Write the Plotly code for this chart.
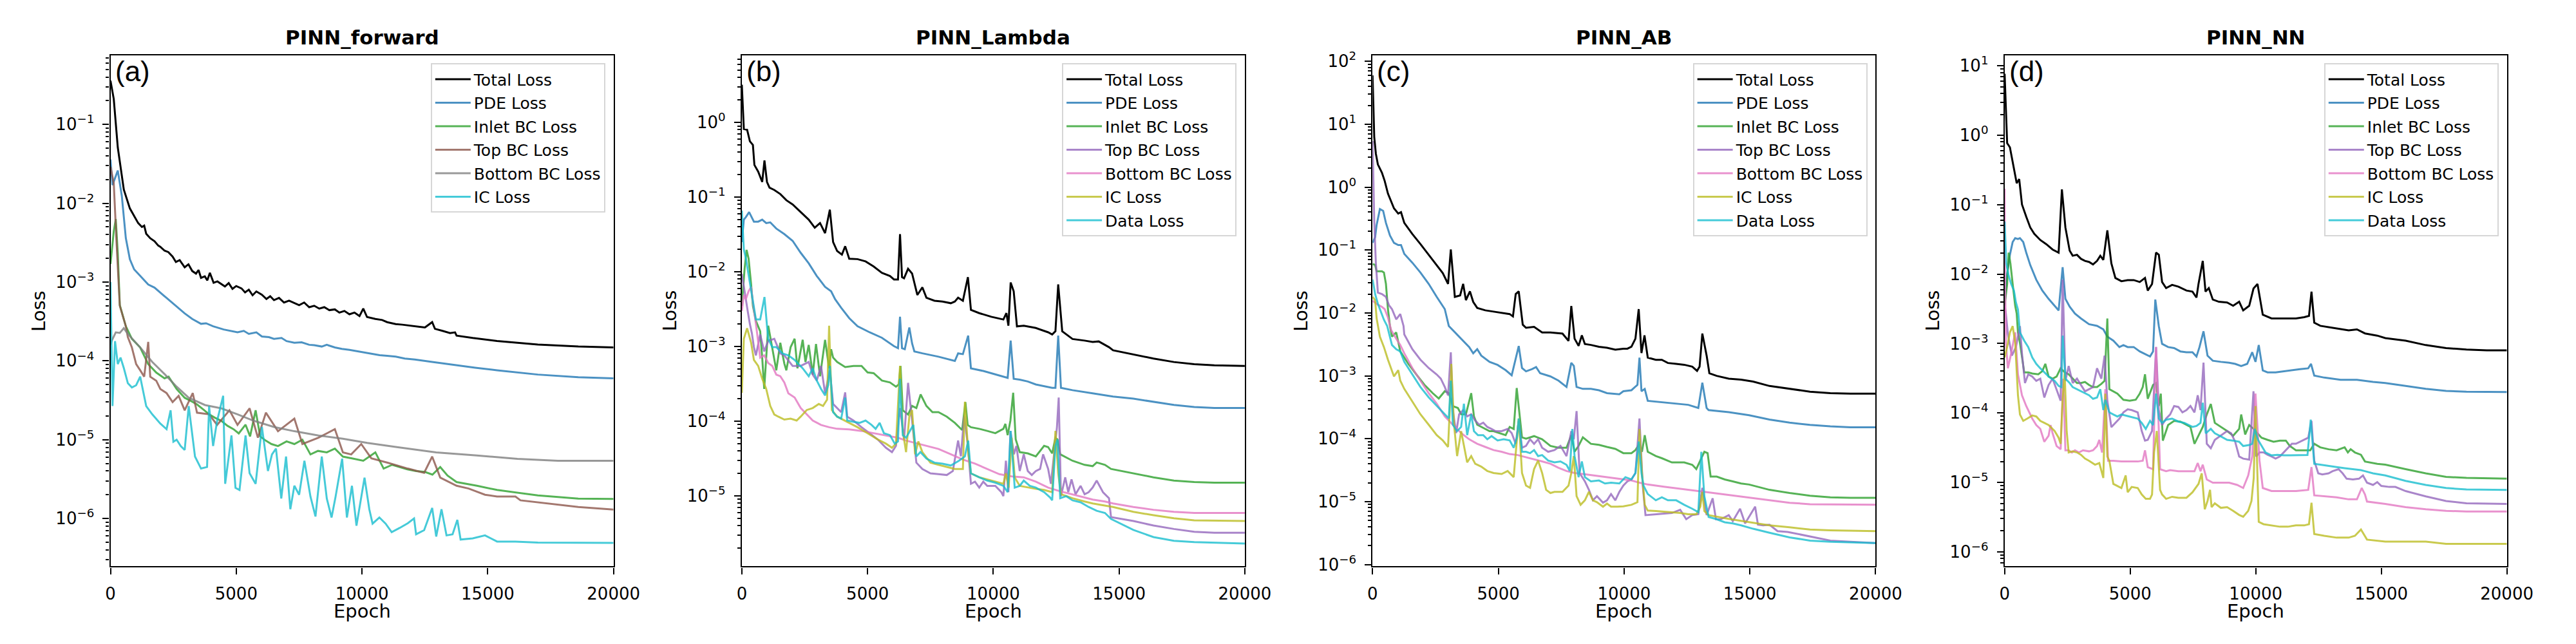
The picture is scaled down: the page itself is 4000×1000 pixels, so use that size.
import math
import plotly.graph_objects as go

# ---------------- (a) PINN_forward : (epoch, loss) ----------------
a_total = [(0, 0.36), (130, 0.21), (290, 0.051), (530, 0.0149), (770, 0.0086), (1100, 0.0056), (1250, 0.005), (1340, 0.0052), (1420, 0.0041), (1580, 0.0036), (1750, 0.0033), (1900, 0.0029), (1980, 0.0028), (2150, 0.0025), (2300, 0.0024), (2470, 0.0021), (2600, 0.0018), (2750, 0.0019), (2950, 0.00154), (3100, 0.00168), (3250, 0.00138), (3400, 0.00128), (3500, 0.00142), (3600, 0.00113), (3750, 0.00118), (3850, 0.00105), (3950, 0.00131), (4100, 0.00098), (4250, 0.00102), (4400, 0.00094), (4550, 0.00088), (4700, 0.00097), (4850, 0.00082), (5000, 0.00089), (5210, 0.00083), (5350, 0.00074), (5500, 0.0008), (5650, 0.00068), (5800, 0.00076), (6020, 0.00069), (6200, 0.00061), (6350, 0.00066), (6500, 0.00059), (6700, 0.00063), (6900, 0.00055), (7100, 0.00058), (7310, 0.00054), (7500, 0.00051), (7700, 0.00055), (7900, 0.00048), (8100, 0.0005), (8300, 0.00046), (8500, 0.00048), (8700, 0.00044), (8920, 0.00045), (9100, 0.00041), (9300, 0.00043), (9500, 0.00039), (9700, 0.00041), (9900, 0.00037), (10050, 0.00046), (10200, 0.00036), (10530, 0.00034), (10800, 0.00033), (11000, 0.00031), (11340, 0.000293), (11600, 0.000288), (11900, 0.00028), (12150, 0.000275), (12500, 0.000265), (12790, 0.00031), (12900, 0.000255), (13200, 0.00024), (13500, 0.000225), (13700, 0.00023), (13760, 0.000209), (14400, 0.000195), (15370, 0.000179), (16990, 0.000161), (18600, 0.000152), (20000, 0.000148)]
a_pde = [(0, 0.036), (80, 0.017), (290, 0.026), (450, 0.0124), (610, 0.0036), (770, 0.00195), (940, 0.00145), (1180, 0.0012), (1500, 0.00093), (1750, 0.00085), (1980, 0.00074), (2200, 0.00064), (2470, 0.00054), (2700, 0.00047), (2950, 0.0004), (3250, 0.00034), (3600, 0.000295), (3800, 0.0003), (4080, 0.000275), (4500, 0.00025), (4800, 0.00024), (5050, 0.00023), (5300, 0.00024), (5500, 0.00022), (5800, 0.00023), (6020, 0.000204), (6300, 0.0002), (6500, 0.00019), (6800, 0.000195), (7000, 0.000178), (7310, 0.00017), (7600, 0.000172), (7900, 0.00016), (8100, 0.000158), (8400, 0.000152), (8600, 0.00016), (8920, 0.000148), (9200, 0.000142), (9500, 0.000138), (9800, 0.000133), (10050, 0.000128), (10300, 0.000124), (10700, 0.000118), (11000, 0.000116), (11340, 0.000113), (11700, 0.000107), (12100, 0.000104), (12790, 0.000097), (13200, 0.000093), (13760, 0.000089), (14500, 0.000082), (15370, 0.000076), (16990, 0.000067), (18600, 0.000062), (20000, 0.00006)]
a_inlet = [(0, 0.0017), (130, 0.0044), (210, 0.0063), (290, 0.0023), (370, 0.00051), (610, 0.000275), (850, 0.00019), (1180, 0.000148), (1500, 0.000091), (1820, 0.000071), (2150, 0.00006), (2310, 0.000063), (2630, 0.000044), (2800, 0.000038), (2950, 0.000034), (3200, 0.000031), (3440, 0.000028), (3700, 0.000024), (3920, 0.000021), (4150, 0.000019), (4400, 0.0000174), (4650, 0.000015), (4890, 0.0000136), (5100, 0.000012), (5370, 0.0000155), (5550, 0.000011), (5770, 0.0000236), (5950, 0.000011), (6180, 0.0000097), (6400, 0.0000088), (6660, 0.0000083), (7000, 0.0000095), (7310, 0.0000088), (7630, 0.00001), (7950, 0.0000065), (8250, 0.0000072), (8600, 0.0000069), (8920, 0.0000077), (9240, 0.0000061), (9600, 0.0000058), (10050, 0.0000054), (10530, 0.0000069), (10860, 0.0000043), (11200, 0.0000048), (11500, 0.0000045), (11800, 0.0000042), (12150, 0.000004), (12500, 0.0000039), (12800, 0.0000036), (13110, 0.0000045), (13400, 0.0000035), (13760, 0.0000029), (14570, 0.0000026), (15370, 0.0000023), (16990, 0.00000196), (18600, 0.00000179), (20000, 0.00000177)]
a_top = [(0, 0.029), (130, 0.018), (240, 0.0032), (370, 0.0005), (610, 0.000275), (690, 0.0002), (850, 0.000148), (1020, 0.000091), (1180, 0.000076), (1340, 0.000063), (1500, 0.000174), (1580, 0.000063), (1820, 0.000056), (1980, 0.000044), (2230, 0.000039), (2470, 0.00003), (2710, 0.000036), (2950, 0.0000236), (3270, 0.000039), (3440, 0.000022), (3920, 0.000021), (4240, 0.0000154), (4730, 0.0000236), (5050, 0.0000154), (5530, 0.000025), (5860, 0.0000106), (6180, 0.000022), (6660, 0.0000128), (7310, 0.0000185), (7630, 0.0000088), (8270, 0.0000106), (8920, 0.0000136), (9240, 0.0000069), (9570, 0.0000065), (9970, 0.0000088), (10370, 0.0000058), (11020, 0.0000051), (11820, 0.0000043), (12470, 0.0000038), (12790, 0.0000061), (13110, 0.0000033), (13760, 0.0000026), (14240, 0.0000024), (14890, 0.000002), (15370, 0.0000019), (16100, 0.0000019), (16300, 0.0000017), (16990, 0.0000016), (18600, 0.0000014), (20000, 0.0000013)]
a_bottom = [(0, 0.00016), (50, 0.00018), (210, 0.00023), (370, 0.000226), (530, 0.00026), (690, 0.00022), (1180, 0.000148), (1660, 0.000097), (2150, 0.000068), (2630, 0.000047), (3110, 0.000034), (3760, 0.0000275), (4400, 0.000025), (5050, 0.000021), (5690, 0.0000174), (6500, 0.0000145), (7310, 0.0000128), (8270, 0.0000113), (9240, 0.0000103), (10210, 0.0000091), (11340, 0.0000081), (12950, 0.0000069), (14570, 0.0000063), (16180, 0.0000057), (17790, 0.0000054), (20000, 0.0000054)]
a_ic = [(0, 0.001), (80, 0.0000267), (180, 0.000178), (290, 0.000091), (400, 0.00011), (530, 0.000081), (690, 0.000052), (850, 0.000046), (1020, 0.000049), (1180, 0.000063), (1420, 0.0000267), (1660, 0.000021), (1980, 0.000016), (2230, 0.0000136), (2390, 0.0000236), (2500, 0.0000094), (2630, 0.00001), (2790, 0.0000083), (2950, 0.0000074), (3110, 0.0000267), (3360, 0.0000061), (3600, 0.0000043), (3840, 0.0000045), (3920, 0.0000267), (4080, 0.0000083), (4240, 0.0000174), (4480, 0.000036), (4560, 0.00000275), (4810, 0.0000113), (4970, 0.00000245), (5130, 0.0000023), (5370, 0.0000113), (5530, 0.00000375), (5770, 0.00000275), (6020, 0.0000145), (6260, 0.000004), (6420, 0.0000065), (6580, 0.0000077), (6790, 0.00000179), (6980, 0.0000061), (7150, 0.00000131), (7310, 0.0000026), (7500, 0.000002), (7710, 0.0000054), (7950, 0.0000019), (8150, 0.00000106), (8400, 0.0000061), (8600, 0.00000179), (8790, 0.00000103), (8950, 0.0000019), (9210, 0.00000575), (9400, 0.00000103), (9600, 0.0000026), (9780, 0.00000081), (10100, 0.0000033), (10290, 0.00000131), (10420, 0.00000086), (10690, 0.00000103), (10940, 0.00000086), (11180, 0.00000067), (11500, 0.00000076), (11820, 0.00000087), (12070, 0.000001), (12150, 0.00000063), (12470, 0.00000071), (12790, 0.00000136), (12950, 0.00000059), (13160, 0.00000131), (13360, 0.00000061), (13600, 0.00000063), (13790, 0.00000096), (13920, 0.00000054), (14400, 0.00000056), (14890, 0.00000061), (15370, 0.00000051), (16100, 0.00000051), (16990, 0.000000495), (20000, 0.00000049)]

# ---------------- (b) PINN_Lambda ----------------
b_total = [(0, 3.2), (80, 0.82), (210, 0.8), (320, 0.56), (440, 0.5), (500, 0.27), (650, 0.22), (810, 0.16), (900, 0.31), (1000, 0.16), (1100, 0.134), (1290, 0.125), (1530, 0.11), (1770, 0.091), (2020, 0.08), (2340, 0.063), (2660, 0.05), (2900, 0.039), (3110, 0.045), (3310, 0.033), (3500, 0.068), (3630, 0.025), (3790, 0.019), (3980, 0.017), (4110, 0.022), (4270, 0.015), (4600, 0.0148), (4920, 0.0138), (5240, 0.0118), (5570, 0.0097), (5890, 0.0088), (6050, 0.0079), (6210, 0.0079), (6290, 0.032), (6370, 0.0085), (6450, 0.0082), (6610, 0.011), (6770, 0.0095), (6980, 0.0049), (7180, 0.0062), (7340, 0.0045), (7660, 0.0041), (7980, 0.004), (8310, 0.0038), (8470, 0.004), (8600, 0.0045), (8790, 0.0041), (8990, 0.0085), (9110, 0.0031), (9440, 0.0028), (9920, 0.0025), (10400, 0.0023), (10520, 0.0028), (10600, 0.0019), (10690, 0.0072), (10810, 0.0055), (10940, 0.00186), (11210, 0.0019), (11690, 0.00177), (12180, 0.00155), (12340, 0.00145), (12470, 0.0016), (12580, 0.0068), (12740, 0.0016), (13150, 0.00126), (13630, 0.0012), (13950, 0.00115), (14190, 0.00117), (14600, 0.00098), (14760, 0.00089), (15570, 0.00078), (16370, 0.00069), (17180, 0.00062), (17990, 0.00058), (18790, 0.00056), (20000, 0.00055)]
b_pde = [(0, 0.025), (80, 0.05), (160, 0.054), (290, 0.063), (480, 0.047), (650, 0.047), (810, 0.05), (970, 0.045), (1130, 0.046), (1370, 0.038), (1690, 0.032), (2020, 0.026), (2340, 0.018), (2660, 0.013), (2980, 0.0088), (3310, 0.0063), (3550, 0.0055), (3710, 0.0043), (3950, 0.0033), (4270, 0.0024), (4600, 0.00187), (5080, 0.00155), (5570, 0.00131), (6050, 0.00101), (6210, 0.00095), (6290, 0.0025), (6370, 0.00095), (6480, 0.00092), (6660, 0.0018), (6770, 0.0011), (6860, 0.00086), (7180, 0.00081), (7820, 0.00073), (8470, 0.00064), (8600, 0.00081), (8790, 0.00079), (9000, 0.0014), (9110, 0.00051), (9600, 0.00047), (10080, 0.00042), (10570, 0.00038), (10690, 0.0012), (10810, 0.00037), (11050, 0.00036), (11370, 0.00034), (11690, 0.00031), (12340, 0.00028), (12470, 0.00028), (12580, 0.0014), (12690, 0.00028), (13150, 0.00026), (13950, 0.000236), (14760, 0.000214), (15570, 0.0002), (16370, 0.000182), (17180, 0.000165), (17990, 0.000155), (18790, 0.00015), (20000, 0.00015)]
b_inlet = [(0, 0.0035), (110, 0.011), (190, 0.0197), (270, 0.015), (370, 0.0068), (440, 0.0035), (560, 0.0022), (730, 0.0016), (810, 0.00071), (890, 0.00027), (1050, 0.0019), (1210, 0.00098), (1370, 0.00048), (1530, 0.00112), (1690, 0.00059), (1770, 0.00048), (1940, 0.00098), (2100, 0.00127), (2210, 0.00051), (2420, 0.00123), (2530, 0.00062), (2660, 0.00105), (2820, 0.00042), (2950, 0.00108), (3110, 0.0004), (3310, 0.00123), (3470, 0.00051), (3550, 0.00092), (3630, 0.00071), (3790, 0.00062), (4110, 0.00053), (4440, 0.00055), (4760, 0.00055), (5000, 0.00045), (5240, 0.00044), (5570, 0.00035), (5890, 0.00033), (6130, 0.00029), (6240, 0.00031), (6310, 0.00055), (6400, 0.00014), (6610, 0.000123), (6770, 0.00016), (6940, 0.00015), (7110, 0.000228), (7340, 0.00016), (7580, 0.000132), (7820, 0.000132), (8150, 0.000115), (8470, 0.000095), (8760, 0.000076), (8890, 0.00018), (8980, 0.000089), (9110, 0.000083), (9440, 0.000079), (9760, 0.000074), (10080, 0.000069), (10400, 0.000079), (10480, 0.000092), (10570, 0.000065), (10680, 0.000102), (10790, 0.00024), (10890, 0.000057), (11050, 0.0000385), (11370, 0.000037), (11690, 0.0000338), (12020, 0.0000467), (12180, 0.000045), (12340, 0.000037), (12470, 0.00006), (12550, 0.000057), (12660, 0.000036), (12820, 0.0000338), (13150, 0.0000295), (13630, 0.000026), (13950, 0.000025), (14110, 0.000028), (14440, 0.000026), (14680, 0.0000229), (15570, 0.00002), (16370, 0.0000177), (17180, 0.000016), (17990, 0.0000153), (18790, 0.000015), (20000, 0.000015)]
b_top = [(0, 0.0094), (160, 0.0041), (240, 0.0029), (320, 0.002), (400, 0.0015), (480, 0.00098), (560, 0.00076), (730, 0.00145), (890, 0.00086), (1050, 0.00119), (1290, 0.00127), (1530, 0.00081), (1690, 0.00076), (2020, 0.00055), (2340, 0.00055), (2660, 0.00062), (2820, 0.00042), (2980, 0.00035), (3150, 0.00055), (3310, 0.000236), (3500, 0.00048), (3630, 0.00017), (3790, 0.00015), (3950, 0.000132), (4110, 0.000243), (4190, 0.000115), (4440, 0.000102), (4760, 0.000083), (5080, 0.000069), (5400, 0.000057), (5730, 0.000044), (5970, 0.0000385), (6130, 0.0000467), (6290, 0.00015), (6450, 0.000057), (6610, 0.000326), (6770, 0.000102), (6940, 0.0000278), (7180, 0.0000229), (7500, 0.00002), (7820, 0.0000195), (8150, 0.000019), (8390, 0.0000215), (8600, 0.000055), (8710, 0.0000338), (8840, 0.000116), (8980, 0.00005), (9110, 0.0000145), (9270, 0.0000155), (9440, 0.0000129), (9600, 0.0000155), (9760, 0.0000136), (10080, 0.0000136), (10320, 0.0000112), (10400, 0.0000099), (10500, 0.0000295), (10600, 0.0000112), (10680, 0.000074), (10820, 0.000036), (10920, 0.0000467), (11050, 0.0000215), (11210, 0.000036), (11370, 0.0000215), (11530, 0.000019), (11690, 0.0000215), (11860, 0.0000229), (11980, 0.000036), (12180, 0.0000229), (12290, 0.0000145), (12420, 0.000036), (12530, 0.000083), (12600, 0.000207), (12690, 0.0000099), (12860, 0.0000177), (12980, 0.0000112), (13110, 0.0000166), (13270, 0.0000105), (13470, 0.0000136), (13630, 0.0000105), (13790, 0.0000112), (13950, 0.0000129), (14110, 0.000016), (14360, 0.0000112), (14600, 0.0000093), (14680, 0.0000052), (15570, 0.0000046), (16370, 0.000004), (17180, 0.0000036), (17990, 0.0000033), (18790, 0.0000032), (20000, 0.0000032)]
b_bottom = [(0, 0.003), (80, 0.0049), (160, 0.0043), (270, 0.0055), (370, 0.0063), (440, 0.0039), (560, 0.002), (730, 0.00071), (890, 0.00076), (1050, 0.0006), (1210, 0.00055), (1370, 0.00042), (1530, 0.0004), (1690, 0.00033), (1850, 0.000236), (2100, 0.000207), (2340, 0.00015), (2580, 0.000123), (2820, 0.000102), (3150, 0.000089), (3470, 0.000083), (3790, 0.000079), (4270, 0.0000775), (4760, 0.000074), (5240, 0.000069), (5730, 0.000065), (6210, 0.00006), (6530, 0.000055), (6860, 0.0000515), (7340, 0.0000467), (7820, 0.0000425), (8310, 0.000036), (8790, 0.0000306), (9270, 0.000027), (9760, 0.0000229), (10240, 0.0000195), (10730, 0.0000182), (11210, 0.0000177), (11690, 0.0000155), (12180, 0.0000129), (12660, 0.0000115), (13150, 0.0000105), (13630, 0.0000095), (13950, 0.0000089), (14440, 0.0000084), (14760, 0.0000079), (15570, 0.0000071), (16370, 0.0000065), (17180, 0.0000061), (17990, 0.0000059), (20000, 0.0000059)]
b_ic = [(0, 0.00024), (80, 0.00127), (210, 0.00176), (370, 0.00112), (480, 0.00066), (650, 0.00055), (810, 0.00037), (970, 0.00027), (1130, 0.00016), (1290, 0.000123), (1450, 0.000115), (1690, 0.000105), (1940, 0.000108), (2180, 0.000102), (2340, 0.000115), (2580, 0.000141), (2820, 0.00015), (3060, 0.00017), (3230, 0.00016), (3390, 0.000194), (3470, 0.0019), (3580, 0.000141), (3790, 0.000115), (4190, 0.000098), (4600, 0.000083), (5000, 0.000069), (5400, 0.000057), (5730, 0.00005), (5970, 0.000044), (6130, 0.00005), (6290, 0.00055), (6400, 0.000074), (6530, 0.0000385), (6660, 0.000115), (6770, 0.000141), (6890, 0.000036), (7020, 0.0000535), (7180, 0.0000385), (7500, 0.0000278), (7820, 0.000026), (8150, 0.0000245), (8470, 0.0000229), (8790, 0.0000229), (8870, 0.000182), (9000, 0.0000385), (9110, 0.00002), (9440, 0.0000177), (9760, 0.0000166), (10080, 0.0000155), (10400, 0.0000145), (10500, 0.00002), (10610, 0.0000129), (10730, 0.00006), (10850, 0.0000177), (11050, 0.0000136), (11370, 0.0000129), (11690, 0.0000124), (12020, 0.000012), (12340, 0.0000112), (12470, 0.000074), (12580, 0.00002), (12690, 0.0000105), (13150, 0.0000093), (13630, 0.0000084), (13950, 0.0000079), (14760, 0.0000071), (15570, 0.0000061), (16370, 0.0000055), (17180, 0.000005), (17990, 0.0000047), (20000, 0.0000046)]
b_data = [(0, 0.066), (80, 0.02), (160, 0.0152), (320, 0.0072), (440, 0.0041), (560, 0.0023), (730, 0.0023), (900, 0.0046), (1000, 0.0019), (1050, 0.00127), (1210, 0.00098), (1370, 0.00098), (1610, 0.00081), (1850, 0.00076), (2100, 0.00066), (2260, 0.000585), (2420, 0.00051), (2660, 0.0004), (2820, 0.00051), (2980, 0.00035), (3150, 0.00027), (3310, 0.000221), (3440, 0.000306), (3500, 0.00055), (3630, 0.000132), (3790, 0.000115), (3950, 0.000108), (4110, 0.000207), (4190, 0.000102), (4440, 0.000098), (4680, 0.000095), (4920, 0.000102), (5160, 0.000089), (5320, 0.000079), (5480, 0.000095), (5650, 0.000069), (5890, 0.000065), (6080, 0.00005), (6210, 0.0000535), (6290, 0.00037), (6400, 0.000065), (6530, 0.00006), (6690, 0.000074), (6820, 0.000089), (6940, 0.0000338), (7100, 0.0000385), (7340, 0.0000316), (7660, 0.0000278), (7980, 0.000027), (8310, 0.0000255), (8630, 0.0000295), (8870, 0.0000338), (9000, 0.000055), (9110, 0.00002), (9440, 0.0000177), (9760, 0.000016), (10080, 0.000015), (10400, 0.0000136), (10570, 0.0000112), (10690, 0.000074), (10850, 0.0000129), (11050, 0.0000136), (11210, 0.000016), (11450, 0.0000136), (11690, 0.0000129), (12020, 0.0000112), (12260, 0.0000095), (12340, 0.0000087), (12470, 0.0000467), (12550, 0.000057), (12660, 0.0000093), (12900, 0.0000099), (13150, 0.0000087), (13470, 0.0000082), (13790, 0.0000071), (14110, 0.0000063), (14440, 0.0000059), (14680, 0.0000049), (15570, 0.0000035), (16370, 0.0000028), (17180, 0.0000025), (17990, 0.0000024), (20000, 0.0000023)]

# ---------------- (c) PINN_AB ----------------
c_total = [(0, 60), (65, 6.3), (130, 3.4), (210, 2.3), (370, 1.7), (480, 1.26), (610, 0.79), (740, 0.58), (850, 0.46), (1020, 0.38), (1130, 0.4), (1260, 0.27), (1580, 0.18), (1900, 0.125), (2230, 0.085), (2550, 0.058), (2790, 0.043), (3000, 0.029), (3110, 0.102), (3270, 0.018), (3480, 0.019), (3600, 0.029), (3710, 0.016), (3870, 0.022), (4000, 0.015), (4160, 0.012), (4480, 0.011), (4810, 0.0105), (5130, 0.01), (5450, 0.0096), (5580, 0.0088), (5690, 0.02), (5810, 0.022), (5970, 0.0065), (6100, 0.0058), (6420, 0.006), (6740, 0.0049), (7070, 0.0049), (7550, 0.0047), (7790, 0.0036), (7900, 0.0129), (8030, 0.0039), (8190, 0.003), (8320, 0.0044), (8440, 0.0032), (8680, 0.0031), (9000, 0.0029), (9320, 0.0028), (9650, 0.0026), (9970, 0.0027), (10130, 0.0027), (10290, 0.0029), (10450, 0.0039), (10580, 0.0115), (10690, 0.0023), (10810, 0.0044), (10940, 0.00195), (11260, 0.0018), (11500, 0.0018), (11740, 0.0016), (12070, 0.00155), (12390, 0.0015), (12710, 0.0014), (12900, 0.0012), (13000, 0.0014), (13110, 0.0047), (13280, 0.0021), (13390, 0.0011), (13680, 0.001), (14160, 0.0009), (14650, 0.00087), (15130, 0.00081), (15780, 0.00069), (16580, 0.00062), (17390, 0.00056), (18200, 0.00053), (19000, 0.00052), (20000, 0.00052)]
c_pde = [(0, 0.13), (100, 0.16), (160, 0.25), (290, 0.45), (420, 0.42), (530, 0.27), (690, 0.17), (850, 0.13), (1020, 0.12), (1130, 0.12), (1260, 0.087), (1580, 0.063), (1900, 0.044), (2230, 0.029), (2550, 0.018), (2870, 0.0115), (3030, 0.0062), (3270, 0.0049), (3520, 0.0039), (3840, 0.00287), (4000, 0.00228), (4160, 0.00265), (4320, 0.0021), (4650, 0.00167), (4970, 0.00149), (5290, 0.00123), (5530, 0.00102), (5690, 0.00195), (5810, 0.00298), (5940, 0.00133), (6100, 0.00118), (6340, 0.00128), (6500, 0.00138), (6660, 0.0011), (6820, 0.00105), (7070, 0.00098), (7390, 0.00084), (7710, 0.000665), (7900, 0.00161), (8000, 0.00144), (8110, 0.000665), (8360, 0.00062), (8680, 0.00062), (9000, 0.00059), (9320, 0.00053), (9810, 0.00051), (9970, 0.00057), (10290, 0.00059), (10530, 0.00072), (10610, 0.00195), (10690, 0.00057), (10820, 0.00062), (10940, 0.0004), (11740, 0.000373), (12550, 0.000346), (12950, 0.000308), (13110, 0.00078), (13280, 0.000308), (13360, 0.000285), (14160, 0.000264), (14970, 0.000236), (15780, 0.000202), (16580, 0.00018), (17390, 0.000166), (18200, 0.000157), (19000, 0.000152), (20000, 0.000152)]
c_inlet = [(0, 0.06), (100, 0.058), (160, 0.046), (370, 0.046), (450, 0.044), (530, 0.029), (610, 0.0115), (690, 0.0062), (770, 0.0042), (940, 0.0049), (1100, 0.00245), (1420, 0.00155), (1740, 0.00105), (2060, 0.00072), (2390, 0.00053), (2630, 0.000436), (2870, 0.00057), (3030, 0.00053), (3190, 0.00033), (3390, 0.000308), (3520, 0.000245), (3710, 0.000245), (3920, 0.00053), (4030, 0.000227), (4160, 0.000167), (4320, 0.000154), (4480, 0.000143), (4650, 0.000132), (4810, 0.000132), (5050, 0.000123), (5290, 0.000114), (5450, 0.000154), (5610, 0.000143), (5730, 0.00064), (5860, 0.000194), (5940, 0.000105), (6100, 0.0001), (6420, 0.00011), (6740, 0.000098), (7070, 0.000077), (7390, 0.000072), (7710, 0.000072), (7900, 0.000114), (8030, 0.000062), (8190, 0.000077), (8360, 0.000105), (8680, 0.000083), (9000, 0.00008), (9320, 0.000074), (9650, 0.000069), (9970, 0.000059), (10290, 0.000059), (10450, 0.000066), (10610, 0.000083), (10710, 0.000062), (10820, 0.000114), (10940, 0.000062), (11260, 0.000053), (11500, 0.000049), (11900, 0.000042), (12390, 0.000042), (12710, 0.0000385), (12870, 0.000033), (13030, 0.000045), (13190, 0.000062), (13320, 0.000059), (13440, 0.000025), (13680, 0.000025), (14000, 0.0000225), (14320, 0.000021), (14650, 0.0000194), (14970, 0.0000187), (15290, 0.0000173), (15780, 0.0000154), (16580, 0.0000137), (17390, 0.0000124), (18200, 0.0000117), (19000, 0.0000115), (20000, 0.0000115)]
c_top = [(0, 5.4), (65, 0.29), (130, 0.062), (210, 0.021), (370, 0.02), (530, 0.018), (650, 0.0133), (770, 0.0115), (940, 0.0079), (1100, 0.0096), (1230, 0.0062), (1260, 0.00455), (1580, 0.00265), (1900, 0.00181), (2230, 0.00133), (2550, 0.00105), (2710, 0.000905), (2870, 0.000665), (3000, 0.00049), (3110, 0.00237), (3190, 0.000285), (3320, 0.000123), (3440, 0.000245), (3600, 0.000285), (3760, 0.000227), (3920, 0.000245), (4080, 0.000194), (4240, 0.000167), (4400, 0.00018), (4560, 0.000154), (4730, 0.000143), (4890, 0.000132), (5130, 0.000132), (5370, 0.000143), (5530, 0.000123), (5690, 0.000083), (5810, 0.000194), (5940, 0.000072), (6100, 0.000077), (6260, 0.000098), (6420, 0.000083), (6580, 0.000098), (6740, 0.000072), (6980, 0.000062), (7230, 0.000066), (7470, 0.000077), (7710, 0.000053), (7900, 0.000132), (8000, 0.000098), (8110, 0.000275), (8230, 0.0000285), (8440, 0.000021), (8600, 0.0000154), (8760, 0.0000105), (8920, 0.0000122), (9160, 0.0000096), (9320, 0.0000105), (9480, 0.0000132), (9650, 0.0000105), (9810, 0.0000143), (9970, 0.000018), (10130, 0.000021), (10290, 0.0000225), (10450, 0.0000285), (10610, 0.00021), (10740, 0.000018), (10850, 0.0000061), (11260, 0.0000063), (11900, 0.0000066), (12230, 0.0000074), (12470, 0.00000525), (12710, 0.0000061), (12950, 0.0000063), (13110, 0.0000166), (13280, 0.0000061), (13520, 0.0000113), (13650, 0.00000525), (13840, 0.00000525), (14160, 0.0000061), (14320, 0.0000049), (14610, 0.0000077), (14810, 0.0000045), (15210, 0.0000083), (15320, 0.0000043), (15530, 0.0000042), (15780, 0.0000043), (16100, 0.0000034), (16500, 0.0000033), (17390, 0.0000028), (18200, 0.0000024), (19000, 0.0000023), (20000, 0.0000022)]
c_bottom = [(0, 0.0156), (210, 0.0135), (370, 0.0125), (480, 0.0115), (610, 0.0085), (690, 0.0062), (740, 0.0053), (940, 0.0039), (1100, 0.0031), (1260, 0.00228), (1580, 0.00133), (1900, 0.00084), (2230, 0.00053), (2550, 0.00036), (2870, 0.000227), (3190, 0.000167), (3520, 0.000123), (3840, 0.000098), (4160, 0.000083), (4480, 0.000074), (4810, 0.000066), (5130, 0.000062), (5450, 0.000057), (5770, 0.000055), (6100, 0.000051), (6420, 0.000047), (6740, 0.0000435), (7070, 0.00004), (7390, 0.0000345), (7710, 0.0000307), (8030, 0.0000285), (8360, 0.0000275), (8680, 0.0000264), (9000, 0.0000255), (9320, 0.0000245), (9650, 0.0000236), (9970, 0.0000225), (10290, 0.0000217), (10610, 0.00002), (10940, 0.0000187), (11580, 0.0000173), (12230, 0.000016), (12870, 0.0000148), (13520, 0.0000137), (14160, 0.0000127), (14970, 0.0000117), (15780, 0.0000105), (16580, 0.0000096), (17390, 0.0000091), (18200, 0.000009), (20000, 0.0000089)]
c_ic = [(0, 0.018), (100, 0.016), (160, 0.0082), (290, 0.0042), (450, 0.00287), (610, 0.00181), (850, 0.00098), (1020, 0.00123), (1100, 0.00084), (1260, 0.00062), (1580, 0.00039), (1900, 0.000245), (2230, 0.000167), (2550, 0.000114), (2790, 0.000094), (3000, 0.000074), (3060, 0.000245), (3130, 0.00155), (3230, 0.00018), (3360, 0.000053), (3520, 0.000132), (3650, 0.000072), (3760, 0.000042), (3920, 0.000053), (4080, 0.00004), (4320, 0.000036), (4560, 0.0000307), (4810, 0.0000285), (5130, 0.0000275), (5370, 0.0000307), (5610, 0.0000245), (5730, 0.00009), (5810, 0.00021), (5940, 0.0000285), (6100, 0.000018), (6260, 0.0000166), (6420, 0.000033), (6580, 0.000045), (6740, 0.0000285), (6900, 0.0000154), (7070, 0.0000137), (7230, 0.0000143), (7550, 0.0000143), (7790, 0.000018), (7900, 0.0000285), (8000, 0.000053), (8110, 0.0000122), (8270, 0.0000089), (8440, 0.0000105), (8600, 0.0000143), (8760, 0.0000105), (8920, 0.0000098), (9160, 0.0000083), (9320, 0.0000093), (9480, 0.0000083), (9730, 0.0000083), (9970, 0.0000084), (10290, 0.0000089), (10530, 0.0000098), (10610, 0.000143), (10710, 0.0000285), (10820, 0.0000089), (10940, 0.0000072), (11260, 0.0000071), (11740, 0.0000068), (12230, 0.0000066), (12550, 0.0000063), (12870, 0.0000063), (13030, 0.0000083), (13110, 0.0000143), (13190, 0.0000071), (13360, 0.0000061), (14160, 0.0000053), (14970, 0.0000047), (15780, 0.0000042), (16580, 0.0000039), (17390, 0.0000036), (18200, 0.0000035), (20000, 0.0000034)]
c_data = [(0, 0.034), (100, 0.02), (210, 0.014), (290, 0.0115), (450, 0.0078), (580, 0.0062), (770, 0.0031), (940, 0.00265), (1100, 0.00245), (1260, 0.00167), (1580, 0.00105), (1900, 0.000665), (2230, 0.000455), (2550, 0.00033), (2870, 0.000245), (3030, 0.00021), (3110, 0.00084), (3190, 0.000167), (3360, 0.000132), (3520, 0.000154), (3630, 0.00036), (3760, 0.000114), (3920, 0.000245), (4030, 0.000132), (4190, 0.000114), (4400, 0.000114), (4560, 0.000098), (4730, 0.00011), (4970, 0.000094), (5210, 0.000098), (5450, 0.000094), (5610, 0.000072), (5740, 0.000105), (5810, 0.00021), (5940, 0.000062), (6100, 0.000062), (6260, 0.000059), (6420, 0.000066), (6580, 0.000053), (6740, 0.000055), (6980, 0.000045), (7230, 0.000042), (7470, 0.0000435), (7710, 0.0000385), (7840, 0.0000307), (7940, 0.000143), (8030, 0.000053), (8190, 0.0000245), (8320, 0.0000435), (8440, 0.0000245), (8680, 0.000021), (9000, 0.0000217), (9240, 0.0000194), (9480, 0.00002), (9810, 0.0000194), (10050, 0.0000245), (10290, 0.0000225), (10450, 0.0000285), (10580, 0.00009), (10690, 0.0000285), (10770, 0.000018), (10940, 0.0000132), (11260, 0.0000105), (11500, 0.0000117), (11740, 0.0000105), (12070, 0.0000105), (12390, 0.0000089), (12710, 0.0000077), (12950, 0.0000068), (13070, 0.000062), (13190, 0.0000122), (13360, 0.0000057), (13680, 0.00000525), (14000, 0.0000047), (14320, 0.0000045), (14650, 0.0000042), (15130, 0.0000037), (15780, 0.0000032), (16580, 0.0000027), (17390, 0.0000024), (18200, 0.0000023), (20000, 0.0000022)]

# ---------------- (d) PINN_NN ----------------
d_total = [(0, 7.7), (50, 2.7), (100, 0.77), (210, 0.67), (290, 0.47), (370, 0.31), (480, 0.204), (580, 0.234), (690, 0.101), (860, 0.067), (1020, 0.047), (1180, 0.038), (1420, 0.031), (1660, 0.027), (1910, 0.0226), (2150, 0.0204), (2280, 0.166), (2420, 0.047), (2590, 0.0218), (2710, 0.0184), (2880, 0.019), (3040, 0.0166), (3200, 0.0155), (3360, 0.015), (3520, 0.0138), (3680, 0.0155), (3810, 0.0184), (3930, 0.016), (4090, 0.0426), (4250, 0.0143), (4410, 0.0088), (4650, 0.0079), (4900, 0.0082), (5140, 0.0082), (5380, 0.0077), (5590, 0.0088), (5700, 0.0058), (5870, 0.0072), (6030, 0.0204), (6140, 0.019), (6270, 0.0077), (6430, 0.0063), (6670, 0.007), (6920, 0.0066), (7240, 0.0058), (7480, 0.0056), (7640, 0.0046), (7720, 0.0072), (7890, 0.0155), (8000, 0.0056), (8130, 0.0063), (8290, 0.0043), (8530, 0.004), (8860, 0.0039), (9100, 0.0035), (9340, 0.004), (9500, 0.003), (9740, 0.0035), (9910, 0.0062), (10070, 0.0072), (10280, 0.0026), (10630, 0.0023), (10960, 0.0023), (11280, 0.0023), (11600, 0.0023), (11930, 0.0024), (12120, 0.0025), (12220, 0.0056), (12330, 0.002), (12570, 0.0018), (13220, 0.00166), (13700, 0.00155), (14030, 0.0016), (14350, 0.0014), (14840, 0.0013), (15160, 0.0012), (15970, 0.0011), (16770, 0.00095), (17580, 0.00086), (18390, 0.00082), (19200, 0.0008), (20000, 0.0008)]
d_pde = [(0, 0.0035), (100, 0.0102), (210, 0.019), (320, 0.029), (420, 0.033), (530, 0.032), (610, 0.033), (740, 0.029), (860, 0.0204), (1020, 0.0135), (1260, 0.0083), (1500, 0.0058), (1750, 0.0044), (1990, 0.0035), (2150, 0.003), (2310, 0.0126), (2420, 0.0044), (2590, 0.0034), (2800, 0.0027), (3040, 0.0023), (3360, 0.0019), (3680, 0.0018), (3930, 0.0016), (4090, 0.00126), (4330, 0.0011), (4570, 0.00089), (4730, 0.00095), (4900, 0.00089), (5140, 0.00089), (5380, 0.00077), (5620, 0.0007), (5790, 0.00065), (5910, 0.00077), (6000, 0.0043), (6140, 0.00178), (6270, 0.00099), (6510, 0.00089), (6750, 0.00086), (7000, 0.00077), (7240, 0.00075), (7480, 0.00075), (7640, 0.00065), (7760, 0.00089), (7920, 0.0015), (8080, 0.00067), (8290, 0.000565), (8610, 0.000545), (8940, 0.00053), (9180, 0.00051), (9420, 0.000475), (9660, 0.00051), (9860, 0.00075), (9990, 0.000545), (10120, 0.00095), (10280, 0.00041), (10470, 0.000385), (10790, 0.000385), (11120, 0.0004), (11440, 0.00041), (11760, 0.000427), (12090, 0.00044), (12200, 0.00051), (12330, 0.000346), (12730, 0.000323), (13380, 0.0003), (14030, 0.0003), (14670, 0.00028), (15160, 0.00027), (15970, 0.000245), (16770, 0.000223), (17580, 0.000208), (18390, 0.000202), (20000, 0.0002)]
d_inlet = [(0, 0.0035), (100, 0.0072), (160, 0.0204), (230, 0.0143), (320, 0.0072), (420, 0.0035), (480, 0.0027), (530, 0.00145), (610, 0.00102), (690, 0.00063), (780, 0.000385), (940, 0.000385), (1100, 0.00037), (1340, 0.00036), (1500, 0.0004), (1620, 0.00051), (1750, 0.000335), (1910, 0.000312), (2070, 0.000335), (2230, 0.00044), (2390, 0.000385), (2550, 0.00036), (2710, 0.000312), (2880, 0.00027), (3040, 0.00027), (3200, 0.00028), (3360, 0.000253), (3520, 0.000236), (3680, 0.000236), (3850, 0.000262), (3980, 0.00029), (4090, 0.0023), (4170, 0.00022), (4330, 0.000205), (4490, 0.00019), (4730, 0.000155), (4980, 0.00015), (5220, 0.000155), (5380, 0.00019), (5500, 0.000236), (5590, 0.00036), (5700, 0.00016), (5910, 0.000253), (6030, 0.00027), (6140, 0.000126), (6220, 0.00019), (6300, 0.00004), (6510, 0.000067), (6750, 0.000077), (7000, 0.000075), (7240, 0.000067), (7400, 0.000063), (7560, 0.000036), (7720, 0.000047), (7890, 0.000063), (8050, 0.000095), (8210, 0.000135), (8370, 0.000072), (8610, 0.000063), (8860, 0.000055), (9100, 0.000047), (9340, 0.000059), (9420, 0.000095), (9580, 0.000049), (9740, 0.000067), (9910, 0.000059), (10070, 0.000051), (10230, 0.000044), (10470, 0.000041), (10710, 0.0000385), (10960, 0.00004), (11200, 0.00004), (11360, 0.0000334), (11600, 0.000029), (11930, 0.000029), (12170, 0.000029), (12330, 0.000036), (12570, 0.000032), (12900, 0.00003), (13220, 0.000029), (13540, 0.000032), (13670, 0.000027), (13780, 0.00003), (13950, 0.000027), (14190, 0.000025), (14350, 0.00002), (14840, 0.0000185), (15160, 0.000018), (15970, 0.0000155), (16770, 0.0000135), (17580, 0.000012), (18390, 0.0000116), (20000, 0.0000113)]
d_top = [(0, 0.0036), (50, 0.0027), (130, 0.00135), (290, 0.00067), (450, 0.00089), (610, 0.00178), (690, 0.00072), (810, 0.00027), (940, 0.00036), (1100, 0.000335), (1260, 0.00029), (1420, 0.000312), (1580, 0.000167), (1750, 0.000253), (1910, 0.000312), (2070, 0.00022), (2230, 0.00015), (2310, 0.0083), (2420, 0.00029), (2550, 0.000475), (2710, 0.00027), (2880, 0.000312), (3040, 0.000253), (3200, 0.000205), (3360, 0.00022), (3520, 0.000236), (3680, 0.00044), (3850, 0.000312), (3980, 0.00067), (4090, 0.00015), (4250, 0.0000625), (4410, 0.000072), (4570, 0.000083), (4730, 0.000102), (4900, 0.000113), (5060, 0.00011), (5300, 0.000102), (5460, 0.000055), (5590, 0.00004), (5700, 0.000041), (5870, 0.000055), (6030, 0.00089), (6140, 0.00011), (6270, 0.000067), (6430, 0.000083), (6590, 0.000095), (6750, 0.000126), (6920, 0.000122), (7080, 0.000102), (7240, 0.00011), (7400, 0.000126), (7560, 0.000102), (7690, 0.00018), (7800, 0.00011), (7920, 0.00053), (8050, 0.000036), (8210, 0.000031), (8370, 0.000041), (8610, 0.000047), (8860, 0.000055), (9020, 0.000051), (9180, 0.0000385), (9340, 0.0000236), (9500, 0.000022), (9740, 0.0000213), (9910, 0.000205), (10020, 0.0000236), (10150, 0.000027), (10310, 0.000027), (10470, 0.000025), (10630, 0.0000236), (10790, 0.000022), (10960, 0.0000236), (11120, 0.000027), (11280, 0.000031), (11440, 0.000036), (11600, 0.000036), (11850, 0.00004), (12090, 0.000044), (12220, 0.000077), (12330, 0.0000205), (12490, 0.0000135), (12650, 0.000013), (12900, 0.0000135), (13060, 0.0000145), (13300, 0.0000155), (13460, 0.0000135), (13620, 0.0000113), (13870, 0.000011), (14110, 0.0000113), (14270, 0.0000126), (14430, 0.0000099), (14670, 0.0000092), (14840, 0.0000101), (15000, 0.0000089), (15320, 0.0000086), (15560, 0.0000086), (15970, 0.0000075), (16770, 0.0000063), (17580, 0.0000054), (18390, 0.000005), (20000, 0.0000049)]
d_bottom = [(0, 0.17), (16, 0.01), (50, 0.00102), (130, 0.00044), (260, 0.00072), (370, 0.00117), (420, 0.00145), (530, 0.00036), (690, 0.00018), (860, 0.000126), (1100, 0.000083), (1260, 0.000067), (1420, 0.000059), (1580, 0.0000385), (1750, 0.000047), (1830, 0.000067), (1910, 0.000051), (2070, 0.0000334), (2230, 0.00003), (2330, 0.000312), (2420, 0.000029), (2550, 0.000029), (2680, 0.000027), (2800, 0.000029), (2960, 0.000027), (3120, 0.000029), (3360, 0.000028), (3520, 0.000029), (3680, 0.0000334), (3770, 0.000041), (3880, 0.000027), (4010, 0.00022), (4120, 0.0000205), (4330, 0.0000205), (4650, 0.00002), (4980, 0.00002), (5300, 0.00002), (5500, 0.0000205), (5590, 0.000029), (5700, 0.0000166), (5910, 0.0000155), (6030, 0.00089), (6190, 0.0000155), (6430, 0.0000145), (6590, 0.000015), (6920, 0.0000145), (7240, 0.0000145), (7560, 0.0000145), (7690, 0.000019), (7800, 0.0000145), (7890, 0.000018), (8050, 0.000011), (8290, 0.0000099), (8610, 0.0000099), (8940, 0.0000099), (9260, 0.0000092), (9500, 0.0000083), (9700, 0.0000126), (9860, 0.0000236), (9990, 0.00019), (10150, 0.0000205), (10280, 0.0000083), (10630, 0.0000075), (11120, 0.0000075), (11600, 0.0000075), (12090, 0.0000078), (12220, 0.0000166), (12330, 0.0000065), (12730, 0.0000063), (13220, 0.0000061), (13700, 0.0000057), (14030, 0.0000057), (14220, 0.0000083), (14350, 0.0000067), (14430, 0.0000053), (15160, 0.0000049), (15970, 0.0000044), (16770, 0.0000041), (17580, 0.0000039), (18390, 0.0000038), (20000, 0.0000038)]
d_ic = [(0, 0.00063), (100, 0.00089), (210, 0.00145), (320, 0.00178), (420, 0.00102), (530, 0.00018), (610, 0.000095), (740, 0.000077), (900, 0.000083), (1100, 0.000092), (1260, 0.000089), (1420, 0.000077), (1580, 0.000072), (1750, 0.000067), (1990, 0.000055), (2150, 0.000044), (2230, 0.000036), (2310, 0.000155), (2390, 0.000385), (2470, 0.000055), (2550, 0.000027), (2710, 0.000028), (2880, 0.000027), (3040, 0.000025), (3200, 0.000022), (3360, 0.0000205), (3600, 0.000018), (3770, 0.000019), (3930, 0.0000116), (4010, 0.00019), (4090, 0.0000236), (4170, 0.0000205), (4330, 0.0000095), (4490, 0.0000089), (4650, 0.0000083), (4820, 0.0000126), (4900, 0.0000072), (5060, 0.0000086), (5300, 0.0000083), (5460, 0.0000067), (5620, 0.0000058), (5790, 0.0000058), (5870, 0.0000067), (5950, 0.000027), (6060, 0.000055), (6190, 0.0000078), (6270, 0.0000067), (6430, 0.0000058), (6670, 0.0000062), (6920, 0.000006), (7240, 0.000006), (7480, 0.0000072), (7720, 0.0000095), (7850, 0.0000135), (7970, 0.0000041), (8080, 0.0000054), (8180, 0.0000078), (8240, 0.0000044), (8370, 0.000005), (8610, 0.0000043), (8860, 0.0000044), (9100, 0.0000039), (9340, 0.0000034), (9500, 0.0000032), (9700, 0.0000039), (9830, 0.0000054), (9920, 0.0000116), (9990, 0.000126), (10120, 0.0000027), (10310, 0.0000025), (10630, 0.0000024), (10960, 0.0000023), (11280, 0.0000023), (11600, 0.0000024), (11930, 0.0000024), (12120, 0.0000025), (12220, 0.0000051), (12330, 0.0000018), (12730, 0.0000017), (13220, 0.0000016), (13700, 0.0000016), (13950, 0.0000017), (14190, 0.0000021), (14430, 0.0000015), (15160, 0.0000014), (15970, 0.0000014), (16770, 0.0000014), (17580, 0.0000013), (20000, 0.0000013)]
d_data = [(0, 0.057), (65, 0.0143), (160, 0.0095), (260, 0.0072), (370, 0.0058), (450, 0.0039), (530, 0.0031), (610, 0.00145), (780, 0.0011), (940, 0.00089), (1100, 0.00063), (1260, 0.00051), (1420, 0.00044), (1580, 0.000385), (1750, 0.000335), (1990, 0.00029), (2150, 0.000245), (2260, 0.000236), (2310, 0.0013), (2420, 0.000312), (2590, 0.00027), (2710, 0.000236), (2880, 0.00022), (3040, 0.000205), (3230, 0.00019), (3360, 0.00018), (3520, 0.00016), (3680, 0.000167), (3810, 0.00022), (3930, 0.00011), (4010, 0.000155), (4170, 0.000102), (4330, 0.000095), (4490, 0.000089), (4650, 0.000095), (4980, 0.000089), (5300, 0.000083), (5460, 0.000072), (5620, 0.000059), (5790, 0.000077), (5910, 0.000067), (6030, 0.00019), (6140, 0.000083), (6270, 0.000072), (6430, 0.00008), (6670, 0.000083), (6920, 0.000075), (7160, 0.000072), (7320, 0.000067), (7480, 0.000063), (7640, 0.000065), (7800, 0.000072), (7890, 0.00014), (8010, 0.000051), (8210, 0.000059), (8370, 0.000051), (8610, 0.000046), (8860, 0.000041), (9100, 0.00004), (9340, 0.0000385), (9500, 0.0000334), (9740, 0.0000345), (9860, 0.000036), (9960, 0.000059), (10090, 0.000041), (10230, 0.0000334), (10390, 0.000027), (10630, 0.0000245), (10860, 0.000025), (11120, 0.0000245), (11360, 0.0000245), (11600, 0.0000245), (11850, 0.0000248), (12060, 0.0000248), (12190, 0.00008), (12330, 0.0000185), (12570, 0.000018), (12900, 0.0000174), (13220, 0.0000166), (13540, 0.000016), (13870, 0.0000155), (14190, 0.000015), (14350, 0.0000145), (14670, 0.0000135), (15160, 0.0000126), (15970, 0.0000105), (16770, 0.0000092), (17580, 0.0000083), (18390, 0.0000079), (20000, 0.0000078)]

TITLES = ['PINN_forward', 'PINN_Lambda', 'PINN_AB', 'PINN_NN']
TAGS = ['(a)', '(b)', '(c)', '(d)']

FONT = 'DejaVu Sans'
BLUE, GREEN, BROWN, GREY, CYAN = '#1f77b4', '#2ca02c', '#8c564b', '#7f7f7f', '#17becf'
PURPLE, PINK, OLIVE = '#9467bd', '#e377c2', '#bcbd22'

panels = [
    [('Total Loss', a_total, 'black'), ('PDE Loss', a_pde, BLUE), ('Inlet BC Loss', a_inlet, GREEN),
     ('Top BC Loss', a_top, BROWN), ('Bottom BC Loss', a_bottom, GREY), ('IC Loss', a_ic, CYAN)],
    [('Total Loss', b_total, 'black'), ('PDE Loss', b_pde, BLUE), ('Inlet BC Loss', b_inlet, GREEN),
     ('Top BC Loss', b_top, PURPLE), ('Bottom BC Loss', b_bottom, PINK), ('IC Loss', b_ic, OLIVE),
     ('Data Loss', b_data, CYAN)],
    [('Total Loss', c_total, 'black'), ('PDE Loss', c_pde, BLUE), ('Inlet BC Loss', c_inlet, GREEN),
     ('Top BC Loss', c_top, PURPLE), ('Bottom BC Loss', c_bottom, PINK), ('IC Loss', c_ic, OLIVE),
     ('Data Loss', c_data, CYAN)],
    [('Total Loss', d_total, 'black'), ('PDE Loss', d_pde, BLUE), ('Inlet BC Loss', d_inlet, GREEN),
     ('Top BC Loss', d_top, PURPLE), ('Bottom BC Loss', d_bottom, PINK), ('IC Loss', d_ic, OLIVE),
     ('Data Loss', d_data, CYAN)],
]

# layout geometry in pixels of the 4000x1000 page
W, H = 4000, 1000
x_px = [(157.5, 948.3), (1150, 1940.7), (2141.6, 2932.4), (3135.2, 3924.7)]
y_top_px, y_bot_px = 70, 881
y_ranges = [(-6.608, -0.12), (-5.945, 0.903), (-6.03, 2.1), (-6.21, 1.155)]

fig = go.Figure()
layout = dict(width=W, height=H, margin=dict(l=0, r=0, t=0, b=0),
              paper_bgcolor='white', plot_bgcolor='white', showlegend=True,
              font=dict(family=FONT, color='black'))
annotations = []
y_domain = [1 - y_bot_px / H, 1 - y_top_px / H]

for i, series in enumerate(panels):
    n = '' if i == 0 else str(i + 1)
    leg = 'legend' + n
    for j, (name, pts, color) in enumerate(series):
        total = name == 'Total Loss'
        fig.add_trace(go.Scatter(
            x=[p[0] for p in pts], y=[p[1] for p in pts], mode='lines', name=name,
            line=dict(color=color, width=3),
            opacity=1.0 if total else 0.8,
            xaxis='x' + n, yaxis='y' + n, legend=leg, legendgroup=f'{i}-{j}'))

    lo, hi = y_ranges[i]
    majors = list(range(math.ceil(lo), math.floor(hi) + 1))
    minors = [m * 10.0 ** k for k in range(math.floor(lo), math.ceil(hi) + 1) for m in range(2, 10)
              if lo <= k + math.log10(m) <= hi]
    ticktext = ['10<sup>' + (str(k) if k >= 0 else '\u2212' + str(-k)) + '</sup>' for k in majors]

    x0, x1 = x_px[i]
    axis_common = dict(showline=True, mirror=True, linecolor='black', linewidth=2.2,
                       showgrid=False, zeroline=False, ticks='outside', tickcolor='black',
                       tickwidth=2, ticklen=10, ticklabelstandoff=8,
                       tickfont=dict(family=FONT, size=26, color='black'))
    layout['xaxis' + n] = dict(domain=[x0 / W, x1 / W], anchor='y' + n, range=[0, 20000],
                               tickmode='array', tickvals=[0, 5000, 10000, 15000, 20000],
                               ticktext=['0', '5000', '10000', '15000', '20000'], **axis_common)
    layout['yaxis' + n] = dict(domain=y_domain, anchor='x' + n, type='log', range=[lo, hi],
                               tickmode='array', tickvals=[10.0 ** k for k in majors], ticktext=ticktext,
                               minor=dict(tickmode='array', tickvals=minors, ticks='outside',
                                          ticklen=5, tickwidth=1.5, tickcolor='black', showgrid=False),
                               **axis_common)
    layout[leg] = dict(x=(x1 - 13) / W, y=1 - 83 / H, xanchor='right', yanchor='top',
                       bgcolor='rgba(255,255,255,0.8)', bordercolor='#d6d6d6', borderwidth=2,
                       font=dict(family=FONT, size=25, color='black'), tracegroupgap=1, itemwidth=55)

    xc = (x0 + x1) / 2 / W
    annotations.append(dict(text='<b>' + TITLES[i] + '</b>', x=xc, y=1 - 42 / H, xref='paper', yref='paper',
                            showarrow=False, xanchor='center', yanchor='middle',
                            font=dict(family=FONT, size=31, color='black')))
    annotations.append(dict(text='Epoch', x=xc, y=1 - 952 / H, xref='paper', yref='paper', showarrow=False,
                            xanchor='center', yanchor='middle', font=dict(family=FONT, size=29, color='black')))
    annotations.append(dict(text='Loss', x=(x0 - 113.5) / W, y=sum(y_domain) / 2,
                            xref='paper', yref='paper', showarrow=False, textangle=-90,
                            xanchor='center', yanchor='middle', font=dict(family=FONT, size=29, color='black')))
    annotations.append(dict(text=TAGS[i], x=(x0 + 5) / W, y=y_domain[1], xref='paper',
                            yref='paper', showarrow=False, xanchor='left', yanchor='top', yshift=2,
                            font=dict(family='Liberation Sans', size=44, color='black')))

layout['annotations'] = annotations
fig.update_layout(**layout)
fig.write_html('out.html')
